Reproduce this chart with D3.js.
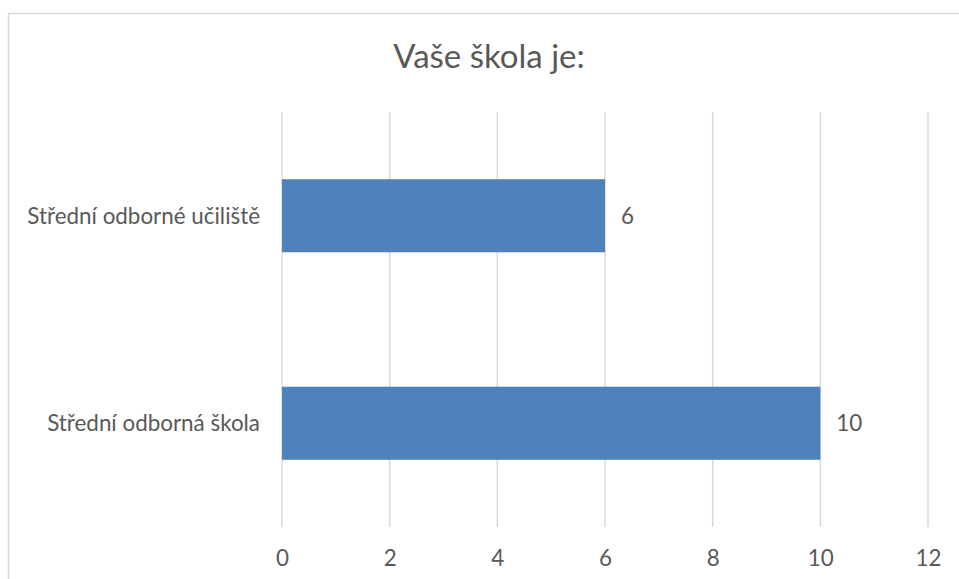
<!DOCTYPE html>
<html>
<head>
<meta charset="utf-8">
<script src="https://cdn.jsdelivr.net/npm/d3@7"></script>
<style>
  body { margin: 0; background: #fff; }
  svg { display: block; }
  text { font-family: Lato, "Open Sans", sans-serif; fill: #595959; }
</style>
</head>
<body>
<svg id="chart" width="959" height="579"></svg>
<script>
// Chart data
const title = "Vaše škola je:";
const categories = ["Střední odborné učiliště", "Střední odborná škola"];
const values = [6, 10];
const xTicks = [0, 2, 4, 6, 8, 10, 12];

const W = 959, H = 579;
const plot = { left: 282, right: 928, top: 112, bottom: 527 };
const labelSize = 22.4;

const svg = d3.select("#chart");

// Chart frame
svg.append("rect")
  .attr("x", 8.5).attr("y", 13.5)
  .attr("width", W + 20).attr("height", H + 20)
  .attr("fill", "#fff")
  .attr("stroke", "#d9d9d9").attr("stroke-width", 1.5);

const x = d3.scaleLinear().domain([0, 12]).range([plot.left, plot.right]);
const y = d3.scaleBand().domain(categories)
  .range([plot.top, plot.bottom])
  .paddingInner(0.648).paddingOuter(0.324);

// Vertical gridlines
svg.append("g").selectAll("line").data(xTicks).join("line")
  .attr("x1", d => x(d)).attr("x2", d => x(d))
  .attr("y1", plot.top).attr("y2", plot.bottom)
  .attr("stroke", "#d9d9d9").attr("stroke-width", 1.5);

// Bars
svg.append("g").selectAll("rect").data(values).join("rect")
  .attr("x", x(0))
  .attr("y", (d, i) => y(categories[i]))
  .attr("width", d => x(d) - x(0))
  .attr("height", y.bandwidth())
  .attr("fill", "#4f81bd");

// Value labels
svg.append("g").selectAll("text").data(values).join("text")
  .attr("x", d => x(d) + 16)
  .attr("y", (d, i) => y(categories[i]) + y.bandwidth() / 2 + 8)
  .attr("font-size", labelSize)
  .text(d => d);

// Category labels
svg.append("g").selectAll("text").data(categories).join("text")
  .attr("x", 260)
  .attr("y", d => y(d) + y.bandwidth() / 2 + 8)
  .attr("text-anchor", "end")
  .attr("font-size", labelSize)
  .text(d => d);

// X axis tick labels
const xAxis = d3.axisBottom(x).tickValues(xTicks).tickSize(0).tickPadding(0);
const gx = svg.append("g").attr("transform", `translate(0,${plot.bottom})`).call(xAxis);
gx.select(".domain").remove();
gx.selectAll("text")
  .attr("y", 39).attr("dy", null)
  .attr("font-size", labelSize)
  .style("font-family", "Lato, 'Open Sans', sans-serif")
  .attr("fill", "#595959");

// Title
svg.append("text")
  .attr("x", 489).attr("y", 68)
  .attr("text-anchor", "middle")
  .attr("font-size", 33)
  .text(title);
</script>
</body>
</html>
